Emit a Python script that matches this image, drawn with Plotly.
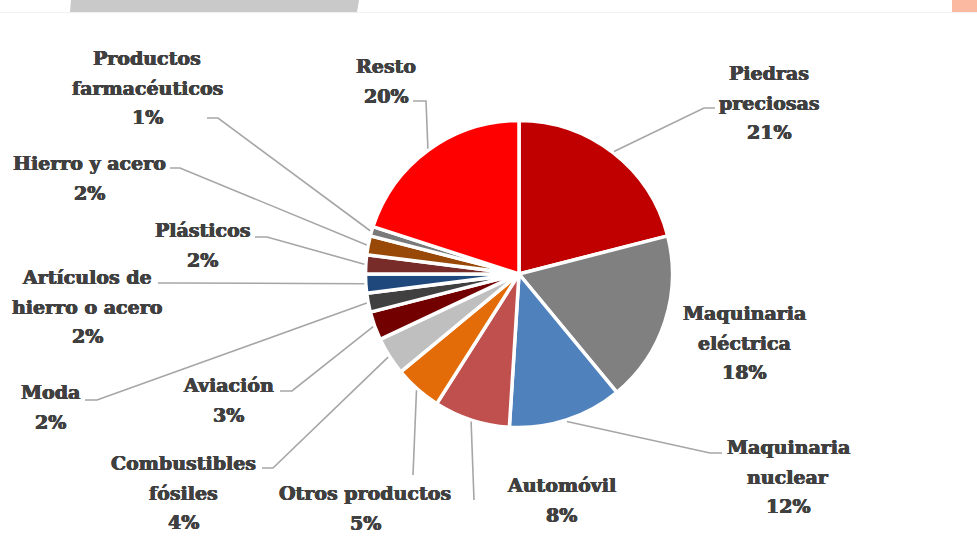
import math
import plotly.graph_objects as go

# ---- data -------------------------------------------------------------
categories = [
    "Piedras preciosas", "Maquinaria eléctrica", "Maquinaria nuclear",
    "Automóvil", "Otros productos", "Combustibles fósiles", "Aviación",
    "Moda", "Artículos de hierro o acero", "Plásticos", "Hierro y acero",
    "Productos farmacéuticos", "Resto",
]
shares = [21, 18, 12, 8, 5, 4, 3, 2, 2, 2, 2, 1, 20]
label_lines = [
    ["Piedras", "preciosas"], ["Maquinaria", "eléctrica"],
    ["Maquinaria", "nuclear"], ["Automóvil"], ["Otros productos"],
    ["Combustibles", "fósiles"], ["Aviación"], ["Moda"],
    ["Artículos de", "hierro o acero"], ["Plásticos"], ["Hierro y acero"],
    ["Productos", "farmacéuticos"], ["Resto"],
]
slice_colors = [
    "#C00000", "#808080", "#4F81BD", "#C0504D", "#E36C09", "#BFBFBF",
    "#730000", "#404040", "#1F497D", "#772C2A", "#984807", "#7A7A7A",
    "#FF0000",
]

# ---- layout (pixels) --------------------------------------------------
W, H = 977, 541
CX, CY, R = 519, 274, 153.5
LINE_GAP = 29.7
TEXT_COLOR = "#404040"
LEADER_COLOR = "#A6A6A6"
FONT = "DejaVu Serif"
FONT_SIZE = 19
FONT_SHADOW = "0.45px 0 0 #404040, -0.45px 0 0 #404040, 0 0.3px 0 #404040"

# label block: centre x, y of first text line
label_pos = [
    (769, 73), (744, 313), (788, 447), (561, 485), (365, 493), (183, 463),
    (228, 385), (50, 392), (87, 277), (202, 230), (89, 163), (147, 58),
    (386, 66),
]
# leader line: list of points after the slice edge (None = no leader)
leader_pts = [
    [(704, 108), (715, 108)], None, [(710, 453), (722, 453)],
    [(474, 500)], [(413, 475)], [(273, 468), (262, 468)],
    [(292, 391), (280, 391)], [(97, 400), (85, 400)],
    [(170, 283), (158, 283)], [(267, 237), (255, 237)],
    [(180, 168), (170, 168)], [(218, 118), (207, 118)],
    [(426, 101), (413, 101)],
]


def px(x):
    return x / W


def py(y):
    return 1 - y / H


fig = go.Figure()
fig.add_trace(go.Pie(
    labels=categories, values=shares, sort=False, direction="clockwise",
    rotation=0, textinfo="none", hoverinfo="label+percent",
    marker=dict(colors=slice_colors, line=dict(color="white", width=3.5)),
    domain=dict(x=[px(CX - R), px(CX + R)], y=[py(CY + R), py(CY - R)]),
    showlegend=False,
))

annotations = []
shapes = []
total = sum(shares)
cum = 0
for i, v in enumerate(shares):
    mid = (cum + v / 2) / total * 2 * math.pi
    cum += v
    lx, ly = label_pos[i]
    lines = label_lines[i] + [f"{v}%"]
    for k, t in enumerate(lines):
        annotations.append(dict(
            x=px(lx), y=py(ly + k * LINE_GAP), xref="paper", yref="paper",
            text=f"<b>{t}</b>", showarrow=False, xanchor="center",
            yanchor="middle",
            font=dict(family=FONT, size=FONT_SIZE, color=TEXT_COLOR,
                      shadow=FONT_SHADOW),
        ))
    if leader_pts[i]:
        r0 = R + 1.5
        sx = CX + r0 * math.sin(mid)
        sy = CY - r0 * math.cos(mid)
        pts = [(sx, sy)] + leader_pts[i]
        path = "M " + " L ".join(f"{px(a)},{py(b)}" for a, b in pts)
        shapes.append(dict(type="path", path=path, xref="paper",
                           yref="paper",
                           line=dict(color=LEADER_COLOR, width=1.6)))

# header strip decorations
shapes.append(dict(type="line", xref="paper", yref="paper",
                   x0=0, x1=1, y0=py(12.5), y1=py(12.5),
                   line=dict(color="#F0F0F0", width=1)))
shapes.append(dict(type="path", xref="paper", yref="paper",
                   path=f"M {px(71)},{py(0)} L {px(359)},{py(0)} "
                        f"L {px(357)},{py(12)} L {px(70)},{py(12)} Z",
                   fillcolor="#C9C9C9", line=dict(width=0)))
shapes.append(dict(type="rect", xref="paper", yref="paper",
                   x0=px(952), x1=1, y0=py(12), y1=1,
                   fillcolor="#FAB9A0", line=dict(width=0)))

fig.update_layout(
    width=W, height=H, margin=dict(l=0, r=0, t=0, b=0),
    paper_bgcolor="white", plot_bgcolor="white",
    annotations=annotations, shapes=shapes,
)
fig.write_html("out.html")
